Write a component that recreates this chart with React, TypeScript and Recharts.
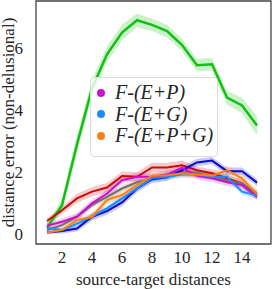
import { ComposedChart, Line, Area, XAxis, YAxis, ReferenceArea } from "recharts";

const distances = [1, 2, 3, 4, 5, 6, 7, 8, 9, 10, 11, 12, 13, 14, 15];

const green = [0.2, 0.93, 2.9, 4.7, 5.8, 6.5, 6.9, 6.75, 6.55, 6.1, 5.45, 5.48, 4.4, 4.15, 3.5];
const red = [0.42, 0.77, 1.15, 1.37, 1.5, 1.87, 1.85, 2.15, 2.15, 2.22, 2.06, 1.96, 1.8, 1.63, 1.26];
const darkBlue = [0.05, 0.1, 0.18, 0.56, 0.74, 1.02, 1.47, 1.77, 1.83, 2.06, 2.31, 2.37, 2.03, 2.03, 1.66];
const gray = [0.13, 0.29, 0.56, 0.94, 1.2, 1.47, 1.67, 1.8, 1.92, 2.0, 1.98, 1.85, 1.74, 1.63, 1.31];
const magenta = [0.27, 0.4, 0.56, 0.99, 1.31, 1.74, 1.85, 1.85, 1.92, 2.14, 1.88, 1.8, 1.67, 1.58, 1.2];
const lightBlue = [0.2, 0.13, 0.34, 0.56, 0.83, 1.15, 1.47, 1.8, 1.85, 1.92, 1.92, 1.85, 1.85, 1.37, 1.24];
const orange = [0.05, 0.13, 0.45, 0.56, 1.1, 1.26, 1.58, 1.88, 1.9, 1.96, 1.92, 1.88, 2.06, 1.8, 1.28];

// half-width of the shaded bands
const greenSpread = [0.12, 0.22, 0.3, 0.28, 0.25, 0.25, 0.22, 0.2, 0.2, 0.2, 0.2, 0.2, 0.22, 0.25, 0.3];
const redSpread = [0.1, 0.12, 0.15, 0.15, 0.15, 0.15, 0.15, 0.15, 0.15, 0.15, 0.12, 0.12, 0.12, 0.12, 0.12];
const darkBlueSpread = [0.05, 0.08, 0.1, 0.12, 0.12, 0.12, 0.12, 0.12, 0.12, 0.12, 0.12, 0.12, 0.12, 0.12, 0.12];
const graySpread = [0.05, 0.08, 0.1, 0.1, 0.1, 0.1, 0.1, 0.1, 0.1, 0.1, 0.1, 0.1, 0.1, 0.1, 0.1];
const magentaSpread = [0.08, 0.1, 0.12, 0.12, 0.12, 0.12, 0.12, 0.12, 0.12, 0.12, 0.12, 0.12, 0.12, 0.12, 0.12];
const lightBlueSpread = [0.05, 0.08, 0.1, 0.1, 0.1, 0.1, 0.1, 0.1, 0.1, 0.1, 0.1, 0.1, 0.1, 0.1, 0.1];
const orangeSpread = [0.05, 0.08, 0.1, 0.12, 0.12, 0.12, 0.12, 0.12, 0.12, 0.12, 0.12, 0.12, 0.15, 0.15, 0.15];

const xTicks = [2, 4, 6, 8, 10, 12, 14];
const yTicks = [0, 2, 4, 6];

const series = [
  { key: "green", values: green, spread: greenSpread, color: "#12c012", width: 2.5 },
  { key: "red", values: red, spread: redSpread, color: "#cc0a0a", width: 2 },
  { key: "gray", values: gray, spread: graySpread, color: "#707070", width: 2 },
  { key: "darkBlue", values: darkBlue, spread: darkBlueSpread, color: "#0a0ad0", width: 2 },
  { key: "magenta", values: magenta, spread: magentaSpread, color: "#cc10cc", width: 2 },
  { key: "lightBlue", values: lightBlue, spread: lightBlueSpread, color: "#1a8cff", width: 2 },
  { key: "orange", values: orange, spread: orangeSpread, color: "#ff8010", width: 2 },
];

const legendItems = [
  { label: "F-(E+P)", color: "#cc10cc" },
  { label: "F-(E+G)", color: "#1a8cff" },
  { label: "F-(E+P+G)", color: "#ff8010" },
];

const data = distances.map((d, i) => {
  const row: Record<string, number | number[]> = { d };
  series.forEach((s) => {
    row[s.key] = s.values[i];
    row[s.key + "Band"] = [s.values[i] - s.spread[i], s.values[i] + s.spread[i]];
  });
  return row;
});

const font = "'Liberation Serif', serif";
const xDomain = [0.267, 15.93];
const yDomain = [-0.32, 7.52];

function LegendBox() {
  return (
    <div
      style={{
        position: "absolute",
        left: 90,
        top: 77,
        border: "1px solid #dcdcdc",
        borderRadius: 4,
        background: "rgba(255,255,255,0.8)",
        width: 128,
        height: 80,
        boxSizing: "border-box",
        padding: "4px 0 0 6px",
      }}
    >
      {legendItems.map((it) => (
        <div key={it.label} style={{ display: "flex", alignItems: "center", height: 21.5 }}>
          <span
            style={{
              width: 8,
              height: 8,
              borderRadius: 4,
              background: it.color,
              display: "inline-block",
              marginRight: 10,
            }}
          />
          <span style={{ fontFamily: font, fontStyle: "italic", fontSize: 20, color: "#262626", whiteSpace: "nowrap" }}>
            {it.label}
          </span>
        </div>
      ))}
    </div>
  );
}

export default function App() {
  return (
    <div style={{ position: "absolute", left: 0, top: 0, width: 272, height: 289, background: "#fff" }}>
      <ComposedChart width={272} height={289} data={data} margin={{ top: 1, right: 1, left: 0, bottom: 0 }}>
        <XAxis
          dataKey="d"
          type="number"
          domain={xDomain}
          ticks={xTicks}
          tickLine={false}
          axisLine={false}
          tick={{ fill: "#262626", fontSize: 17, fontFamily: font }}
          tickMargin={1}
          height={45}
          label={{ value: "source-target distances", position: "insideBottom", offset: 4, fill: "#262626", fontSize: 17, fontFamily: font }}
        />
        <YAxis
          type="number"
          domain={yDomain}
          ticks={yTicks}
          tickLine={false}
          axisLine={false}
          tick={{ fill: "#262626", fontSize: 17, fontFamily: font }}
          tickMargin={7}
          width={36}
          label={{ value: "distance error (non-delusional)", angle: -90, position: "insideLeft", offset: 8, textAnchor: "middle", fill: "#262626", fontSize: 17, fontFamily: font }}
        />
        {series.map((s) => (
          <Area
            key={s.key + "Band"}
            dataKey={s.key + "Band"}
            type="linear"
            stroke="none"
            fill={s.color}
            fillOpacity={0.22}
            isAnimationActive={false}
          />
        ))}
        {series.map((s) => (
          <Line
            key={s.key}
            dataKey={s.key}
            type="linear"
            stroke={s.color}
            strokeWidth={s.width}
            dot={false}
            isAnimationActive={false}
          />
        ))}
        <ReferenceArea
          x1={xDomain[0]}
          x2={xDomain[1]}
          y1={yDomain[0]}
          y2={yDomain[1]}
          fill="none"
          stroke="#444"
          strokeWidth={1.3}
          ifOverflow="visible"
        />
      </ComposedChart>
      <LegendBox />
    </div>
  );
}
